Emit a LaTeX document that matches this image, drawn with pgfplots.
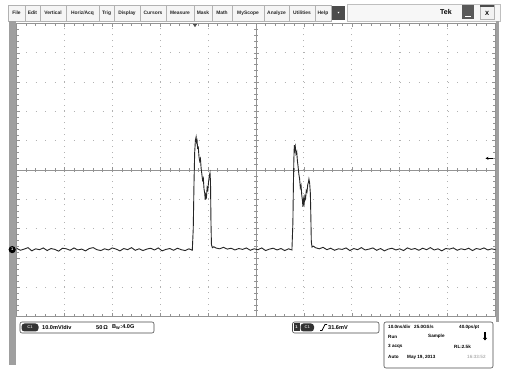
\documentclass[border=0pt]{standalone}
\usepackage{fontspec}
\setmainfont{Liberation Sans}
\usepackage{pgfplots}
\pgfplotsset{compat=1.18}
\usetikzlibrary{arrows.meta}
\newcommand\mb[3]{\draw[gray!60, fill=gray!8, line width=0.4pt] (#1,344) rectangle (#2,360);
  \node[font=\fontsize{4.9}{5}\selectfont\bfseries, text=black!85, inner sep=0] at ({(#1+#2)/2},352) {#3};}
\newcommand\bt[3]{\node[anchor=west, inner sep=0, font=\fontsize{#1}{#1}\selectfont\bfseries] at #2 {#3};}
\begin{document}
\begin{tikzpicture}[x=1pt,y=1pt]
\path[fill=white] (0,0) rectangle (507,365);
% menu bar
\mb{8}{25}{File}\mb{25}{40}{Edit}\mb{40}{66}{Vertical}\mb{66}{99}{Horiz/Acq}
\mb{99}{114}{Trig}\mb{114}{140}{Display}\mb{140}{166}{Cursors}\mb{166}{194}{Measure}
\mb{194}{212}{Mask}\mb{212}{232}{Math}\mb{232}{264}{MyScope}\mb{264}{289}{Analyze}
\mb{289}{315}{Utilities}\mb{315}{331}{Help}
\fill[black!70] (332,345) rectangle (345,359);
\fill[white] (337.5,353) -- (339.5,353) -- (338.5,351.5) -- cycle;
\draw[gray!50, fill=gray!6, line width=0.4pt] (347,344) rectangle (500,361);
\node[font=\fontsize{7}{7}\selectfont\bfseries, inner sep=0] at (446,352.5) {Tek};
\fill[black!65] (462,345.5) rectangle (474,359.5);
\fill[white] (465,348) rectangle (471,349.2);
\draw[gray!60, fill=gray!10, line width=0.4pt] (480,345.5) rectangle (494,359.5);
\fill[black!70] (480,358.3) rectangle (494,359.5);
\node[font=\fontsize{6}{6}\selectfont\bfseries, inner sep=0] at (487,351.5) {X};
% side bars
\fill[gray!75] (9.3,0) rectangle (16.3,344);
\fill[gray!75] (495.5,43) rectangle (499,344);
% bottom boxes
\draw[black!70, line width=0.6pt, rounded corners=2pt, fill=white] (20,32) rectangle (154,43);
\fill[black!80, rounded corners=3pt] (21.5,33.5) rectangle (38.5,41.5);
\node[font=\fontsize{4}{4}\selectfont\bfseries, text=gray!40, inner sep=0] at (30,37.5) {C1};
\bt{5.6}{(42,37.5)}{10.0mV/div}
\bt{5.6}{(96,37.5)}{50\,Ω}
\bt{5.6}{(112,37.5)}{B\textsubscript{W}:4.0G}
\draw[black!70, line width=0.6pt, rounded corners=2pt, fill=white] (292.5,32) rectangle (379,43);
\fill[black!80] (293.5,33.5) rectangle (299.5,41.5);
\node[font=\fontsize{4}{4}\selectfont\bfseries, text=white, inner sep=0] at (296.5,37.5) {1};
\fill[black!80, rounded corners=3pt] (300.5,33.5) rectangle (314,41.5);
\node[font=\fontsize{4}{4}\selectfont\bfseries, text=gray!40, inner sep=0] at (307.3,37.5) {C1};
\draw[black, line width=0.7pt] (320,34.5) -- (322,34.5) -- (325,40.5) -- (327,40.5);
\bt{5.6}{(328,37.5)}{31.6mV}
\draw[black!70, line width=0.6pt, rounded corners=2pt, fill=white] (384,-3) rectangle (493,43);
\bt{4.6}{(388,38)}{10.0ns/div}
\bt{4.6}{(414,38)}{25.0GS/s}
\bt{4.6}{(459,38)}{40.0ps/pt}
\bt{4.6}{(388,28.5)}{Run}
\bt{4.6}{(428,28.5)}{Sample}
\draw[black, line width=1.3pt, -{Triangle[length=2.6pt,width=4pt]}] (485,33) -- (485,24.5);
\bt{4.6}{(388,18.5)}{3 acqs}
\bt{4.6}{(454,18.5)}{RL:2.5k}
\bt{4.6}{(388,8)}{Auto}
\bt{4.6}{(407,8)}{May 19, 2013}
\node[anchor=west, inner sep=0, font=\fontsize{4.6}{4.6}\selectfont\bfseries, text=gray!60] at (467,8) {16:33:52};
% channel marker and trigger markers (decorations, pixel positions)
\fill[black] (12.2,115.4) circle[radius=3.6];
\node[font=\fontsize{4}{4}\selectfont\bfseries, text=white, inner sep=0] at (12.2,115.4) {1};
\fill[black!70] (192.5,341.5) -- (197.5,341.5) -- (195,337.8) -- cycle;
\draw[black, line width=0.8pt, -{Stealth[length=3pt,width=3pt]}] (495.5,206.7) -- (485.5,206.7);
% graticule
\begin{axis}[at={(16.5pt,48.5pt)}, anchor=south west, width=479pt, height=293pt, scale only axis,
  xmin=-50, xmax=50, ymin=-50, ymax=50,
  xtick={-50,-40,...,50}, ytick={-50,-40,...,50}, minor x tick num=4, minor y tick num=4,
  xticklabels={}, yticklabels={}, tick align=inside,
  major tick length=3.5pt, minor tick length=2.6pt,
  tick style={gray!85, line width=0.5pt},
  grid=major,
  major x grid style={gray!60, line width=0.9pt, dash pattern=on 0.9pt off 4.96pt},
  major y grid style={gray!60, line width=0.9pt, dash pattern=on 0.9pt off 8.68pt},
  axis line style={gray!85, line width=0.6pt}]
\end{axis}
\begin{axis}[at={(16.5pt,48.5pt)}, anchor=south west, width=479pt, height=293pt, scale only axis,
  xmin=-50, xmax=50, ymin=-50, ymax=50, axis lines=middle,
  axis line style={gray!85, line width=0.6pt, -},
  every inner x axis line/.append style={-}, every inner y axis line/.append style={-},
  xtick={-50,-40,...,50}, ytick={-50,-40,...,50}, minor x tick num=4, minor y tick num=4,
  xticklabels={}, yticklabels={}, tick align=center,
  major tick length=5pt, minor tick length=3.6pt,
  tick style={gray!85, line width=0.5pt},
  hide obscured x ticks=false, hide obscured y ticks=false]
\addplot[black!85, line width=0.9pt] coordinates {
(-50,-26.7) (-49.2,-27.4) (-48.4,-27.0) (-47.6,-26.5) (-46.8,-27.6) (-46.0,-26.9) (-45.2,-27.2)
(-44.4,-26.6) (-43.6,-27.5) (-42.8,-26.8) (-42.0,-27.1) (-41.2,-27.7) (-40.4,-26.7) (-39.6,-26.9)
(-38.8,-27.4) (-38.0,-26.6) (-37.2,-27.3) (-36.4,-27.0) (-35.6,-27.6) (-34.8,-26.8) (-34.0,-26.5)
(-33.2,-27.2) (-32.4,-27.5) (-31.6,-26.9) (-30.8,-27.3) (-30.0,-26.6) (-29.2,-27.0) (-28.4,-27.6)
(-27.6,-26.8) (-26.8,-27.2) (-26.0,-26.5) (-25.2,-27.4) (-24.4,-26.9) (-23.6,-27.5) (-22.8,-27.0)
(-22.0,-26.7) (-21.2,-27.3) (-20.4,-26.6) (-19.6,-27.6) (-18.8,-27.1) (-18.0,-26.8) (-17.2,-27.4)
(-16.4,-26.7) (-15.6,-27.2) (-14.8,-27.5) (-14.0,-26.9) (-13.3,-27.4)
(-13.1,-20) (-12.95,-5) (-12.8,6) (-12.65,10.2) (-12.5,11.3) (-12.4,9.5) (-12.3,10.0) (-12.2,7.5)
(-12.05,7.8) (-11.9,4.5) (-11.75,3.0) (-11.6,3.8) (-11.45,0.5) (-11.3,-1.5) (-11.15,-3.5)
(-11.0,-2.8) (-10.85,-6.5) (-10.7,-8.0) (-10.6,-10.2) (-10.5,-8.5) (-10.35,-9.3) (-10.2,-6.0)
(-10.05,-6.8) (-9.9,-4.0) (-9.75,-2.0) (-9.6,-1.0) (-9.5,-4.0) (-9.4,-18) (-9.3,-25.5)
(-9.1,-26.5) (-8.8,-26.2)
(-8.4,-26.6) (-7.6,-26.9) (-6.8,-26.4) (-6.0,-27.0) (-5.2,-26.7) (-4.4,-27.3) (-3.6,-26.8)
(-2.8,-27.1) (-2.0,-26.6) (-1.2,-27.4) (-0.4,-26.9) (0.4,-27.2) (1.2,-26.6) (2.0,-27.5)
(2.8,-27.0) (3.6,-26.7) (4.4,-27.3) (5.2,-26.8) (6.0,-27.5) (6.8,-26.9) (7.5,-27.3)
(7.7,-18) (7.8,-6) (7.9,3.5) (8.0,8.5) (8.1,7.0) (8.2,8.0) (8.35,5.5) (8.5,6.2) (8.65,3.0)
(8.8,1.0) (8.95,-1.5) (9.1,-3.0) (9.25,-6.0) (9.4,-5.2) (9.55,-8.5) (9.7,-10.5) (9.8,-12.6)
(9.9,-10.0) (10.05,-11.5) (10.2,-9.0) (10.35,-9.8) (10.5,-7.0) (10.65,-7.5) (10.8,-5.0)
(10.95,-4.2) (11.05,-3.1) (11.2,-4.5) (11.35,-8.0) (11.45,-16) (11.55,-24.5) (11.7,-26.3) (12.0,-26.0)
(12.4,-26.5) (13.2,-26.9) (14.0,-26.4) (14.8,-27.2) (15.6,-26.7) (16.4,-27.4) (17.2,-26.9)
(18.0,-27.1) (18.8,-26.6) (19.6,-27.5) (20.4,-26.8) (21.2,-27.2) (22.0,-26.5) (22.8,-27.3)
(23.6,-27.0) (24.4,-26.6) (25.2,-27.4) (26.0,-26.8) (26.8,-27.6) (27.6,-27.0) (28.4,-26.7)
(29.2,-27.3) (30.0,-26.9) (30.8,-27.5) (31.6,-26.6) (32.4,-27.1) (33.2,-26.8) (34.0,-27.4)
(34.8,-26.7) (35.6,-27.2) (36.4,-26.5) (37.2,-27.3) (38.0,-26.9) (38.8,-27.6) (39.6,-26.8)
(40.4,-27.0) (41.2,-26.6) (42.0,-27.4) (42.8,-26.9) (43.6,-27.2) (44.4,-26.7) (45.2,-27.5)
(46.0,-26.8) (46.8,-27.1) (47.6,-26.6) (48.4,-27.3) (49.2,-26.9) (50.0,-27.2)
};
\end{axis}
\end{tikzpicture}
\end{document}
